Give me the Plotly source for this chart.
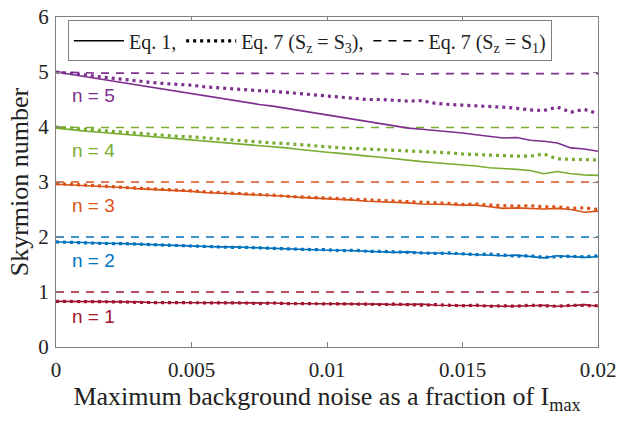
import plotly.graph_objects as go

# ---------------- data ----------------
x_vals = [round(0.0005 * i, 4) for i in range(41)]

n_levels = [1, 2, 3, 4, 5]
colors = {1: "#A2142F", 2: "#0072BD", 3: "#D95319", 4: "#77AC30", 5: "#7E2F8E"}

# Eq. 1 (solid)
eq1_n1 = [0.83, 0.83, 0.83, 0.82, 0.82, 0.82, 0.82, 0.81, 0.81, 0.81, 0.81, 0.81, 0.80, 0.80, 0.80,
          0.80, 0.80, 0.79, 0.79, 0.79, 0.79, 0.78, 0.79, 0.78, 0.78, 0.77, 0.77, 0.78, 0.76, 0.76,
          0.76, 0.75, 0.75, 0.74, 0.74, 0.75, 0.76, 0.74, 0.75, 0.77, 0.74]
eq1_n2 = [1.91, 1.91, 1.90, 1.89, 1.89, 1.88, 1.87, 1.86, 1.86, 1.85, 1.83, 1.83, 1.82, 1.82, 1.81,
          1.80, 1.80, 1.79, 1.78, 1.77, 1.76, 1.76, 1.75, 1.75, 1.74, 1.72, 1.73, 1.71, 1.71, 1.70,
          1.69, 1.69, 1.68, 1.66, 1.67, 1.65, 1.62, 1.66, 1.64, 1.63, 1.64]
eq1_n3 = [2.96, 2.95, 2.94, 2.92, 2.91, 2.90, 2.88, 2.87, 2.86, 2.84, 2.83, 2.81, 2.80, 2.79, 2.78,
          2.77, 2.75, 2.74, 2.72, 2.71, 2.70, 2.69, 2.67, 2.65, 2.64, 2.64, 2.62, 2.60, 2.60, 2.59,
          2.58, 2.58, 2.55, 2.52, 2.53, 2.52, 2.51, 2.52, 2.50, 2.45, 2.47]
eq1_n4 = [3.98, 3.95, 3.93, 3.91, 3.89, 3.87, 3.85, 3.83, 3.81, 3.78, 3.76, 3.74, 3.72, 3.70, 3.68,
          3.66, 3.64, 3.62, 3.59, 3.56, 3.54, 3.52, 3.49, 3.47, 3.45, 3.42, 3.40, 3.37, 3.35, 3.33,
          3.32, 3.29, 3.26, 3.25, 3.23, 3.21, 3.15, 3.19, 3.15, 3.13, 3.12]
eq1_n5 = [5.00, 4.96, 4.92, 4.88, 4.84, 4.80, 4.76, 4.72, 4.68, 4.64, 4.60, 4.56, 4.52, 4.48, 4.45,
          4.41, 4.38, 4.34, 4.30, 4.26, 4.22, 4.18, 4.14, 4.10, 4.07, 4.02, 3.98, 3.96, 3.94, 3.91,
          3.89, 3.86, 3.83, 3.80, 3.81, 3.76, 3.74, 3.71, 3.62, 3.60, 3.56]

# Eq. 7 (Sz = S3) (dotted)
s3_n1 = [0.83, 0.83, 0.82, 0.82, 0.82, 0.82, 0.81, 0.81, 0.81, 0.81, 0.80, 0.80, 0.80, 0.80, 0.80,
         0.79, 0.80, 0.79, 0.79, 0.78, 0.79, 0.78, 0.78, 0.78, 0.77, 0.78, 0.77, 0.76, 0.77, 0.76,
         0.75, 0.76, 0.74, 0.75, 0.74, 0.76, 0.75, 0.74, 0.76, 0.76, 0.75]
s3_n2 = [1.91, 1.90, 1.90, 1.89, 1.88, 1.88, 1.87, 1.86, 1.85, 1.85, 1.84, 1.83, 1.82, 1.81, 1.81,
         1.80, 1.79, 1.78, 1.78, 1.77, 1.77, 1.75, 1.76, 1.74, 1.74, 1.73, 1.72, 1.72, 1.70, 1.71,
         1.69, 1.68, 1.69, 1.67, 1.65, 1.66, 1.63, 1.64, 1.65, 1.64, 1.66]
s3_n3 = [2.97, 2.96, 2.94, 2.93, 2.92, 2.90, 2.89, 2.88, 2.86, 2.85, 2.84, 2.82, 2.81, 2.80, 2.79,
         2.77, 2.76, 2.74, 2.73, 2.72, 2.71, 2.69, 2.68, 2.67, 2.66, 2.65, 2.64, 2.63, 2.62, 2.61,
         2.59, 2.60, 2.58, 2.57, 2.56, 2.57, 2.55, 2.55, 2.52, 2.53, 2.50]
s3_n4 = [4.00, 3.98, 3.96, 3.94, 3.92, 3.90, 3.88, 3.87, 3.85, 3.83, 3.82, 3.80, 3.78, 3.76, 3.75,
         3.73, 3.71, 3.70, 3.68, 3.65, 3.64, 3.62, 3.61, 3.60, 3.58, 3.57, 3.56, 3.55, 3.54, 3.53,
         3.51, 3.50, 3.48, 3.47, 3.47, 3.47, 3.51, 3.42, 3.41, 3.41, 3.40]
s3_n5 = [5.00, 4.98, 4.95, 4.92, 4.89, 4.86, 4.83, 4.81, 4.79, 4.78, 4.76, 4.73, 4.71, 4.70, 4.68,
         4.66, 4.65, 4.63, 4.60, 4.59, 4.57, 4.55, 4.52, 4.50, 4.50, 4.48, 4.47, 4.48, 4.43, 4.41,
         4.40, 4.39, 4.37, 4.36, 4.34, 4.31, 4.30, 4.36, 4.27, 4.32, 4.24]

# Eq. 7 (Sz = S1) (dashed)
s1_n1 = [1.00] * 41
s1_n2 = [2.00] * 41
s1_n3 = [3.00, 3.00, 3.00, 3.00, 3.00, 3.00, 3.00, 3.00, 3.00, 3.00, 3.00, 3.00, 3.00, 3.00, 3.00,
         3.00, 3.00, 3.00, 3.00, 3.00, 3.00, 3.00, 3.00, 3.00, 3.00, 3.00, 3.00, 3.00, 3.00, 3.00,
         3.00, 3.00, 3.00, 2.99, 3.00, 3.00, 3.00, 3.00, 3.00, 3.00, 3.00]
s1_n4 = [4.00, 3.99, 3.99, 3.99, 3.99, 3.99, 3.99, 3.99, 3.99, 3.99, 3.99, 3.99, 3.99, 3.99, 3.99,
         3.99, 3.99, 3.99, 3.99, 3.99, 3.99, 3.99, 3.99, 3.99, 3.99, 3.99, 3.99, 3.99, 3.99, 3.99,
         3.99, 3.99, 3.99, 3.99, 3.99, 3.99, 3.99, 3.98, 3.99, 3.99, 3.99]
s1_n5 = [5.00, 4.99, 4.98, 4.98, 4.98, 4.98, 4.98, 4.98, 4.97, 4.98, 4.97, 4.98, 4.97, 4.97, 4.97,
         4.97, 4.97, 4.97, 4.97, 4.97, 4.97, 4.97, 4.97, 4.97, 4.97, 4.97, 4.96, 4.97, 4.97, 4.97,
         4.97, 4.97, 4.97, 4.97, 4.97, 4.96, 4.97, 4.97, 4.97, 4.97, 4.97]

eq1 = {1: eq1_n1, 2: eq1_n2, 3: eq1_n3, 4: eq1_n4, 5: eq1_n5}
s3 = {1: s3_n1, 2: s3_n2, 3: s3_n3, 4: s3_n4, 5: s3_n5}
s1 = {1: s1_n1, 2: s1_n2, 3: s1_n3, 4: s1_n4, 5: s1_n5}

label_y = {1: 0.55, 2: 1.57, 3: 2.57, 4: 3.58, 5: 4.57}
label_x = 0.0005

x_ticks = [0, 0.005, 0.01, 0.015, 0.02]
x_ticktext = ["0", "0.005", "0.01", "0.015", "0.02"]
y_ticks = [0, 1, 2, 3, 4, 5, 6]

legend_names = ["Eq. 1,", "Eq. 7 (S<sub>z</sub> = S<sub>3</sub>),", "Eq. 7 (S<sub>z</sub> = S<sub>1</sub>)"]

# ---------------- styles ----------------
SERIF = "Liberation Serif"
SOLID = dict(width=1.6)
DOT = dict(width=3.2, dash="3px,4px")
DASH = dict(width=1.6, dash="8px,7px")

fig = go.Figure()

for n in n_levels:
    c = colors[n]
    fig.add_trace(go.Scatter(x=x_vals, y=s1[n], mode="lines", line=dict(color=c, **DASH), showlegend=False))
    fig.add_trace(go.Scatter(x=x_vals, y=s3[n], mode="lines", line=dict(color=c, **DOT), showlegend=False))
    fig.add_trace(go.Scatter(x=x_vals, y=eq1[n], mode="lines", line=dict(color=c, **SOLID), showlegend=False))
    fig.add_annotation(x=label_x, y=label_y[n], xref="x", yref="y", text=f"n = {n}", showarrow=False,
                       xanchor="left", yanchor="middle",
                       font=dict(family="Liberation Sans", size=19, color=c))

# legend entries (black samples)
for name, st in zip(legend_names, [SOLID, DOT, DASH]):
    fig.add_trace(go.Scatter(x=[None], y=[None], mode="lines", name=name, line=dict(color="black", **st)))

axis_common = dict(
    showline=True, linecolor="#7f7f7f", linewidth=1, mirror="ticks",
    ticks="inside", ticklen=5, tickcolor="#7f7f7f", tickwidth=1,
    showgrid=False, zeroline=False, automargin=False,
    tickfont=dict(family=SERIF, size=21, color="#222"),
)

fig.update_xaxes(range=[0, 0.02], tickvals=x_ticks, ticktext=x_ticktext, ticklabelstandoff=4,
                 title=dict(text="Maximum background noise as a fraction of I<sub>max</sub>",
                            font=dict(family=SERIF, size=26, color="#222"),
                            standoff=0),
                 **axis_common)
fig.update_yaxes(range=[0, 6], tickvals=y_ticks, ticklabelstandoff=2,
                 title=dict(text="Skyrmion number",
                            font=dict(family=SERIF, size=26, color="#222"),
                            standoff=2),
                 **axis_common)

fig.update_layout(
    width=618, height=423,
    margin=dict(l=56, r=20, t=17, b=76),
    plot_bgcolor="white", paper_bgcolor="white",
    font=dict(family=SERIF, color="#222"),
    legend=dict(orientation="h", x=0.022, y=0.99, xanchor="left", yanchor="top",
                bgcolor="white", bordercolor="#7f7f7f", borderwidth=1,
                font=dict(family=SERIF, size=20, color="#222"),
                itemwidth=50, tracegroupgap=0),
    showlegend=True,
)

fig.write_html("out.html", config={"displayModeBar": False},
               post_script="document.body.style.margin='0';document.body.style.padding='0';")
